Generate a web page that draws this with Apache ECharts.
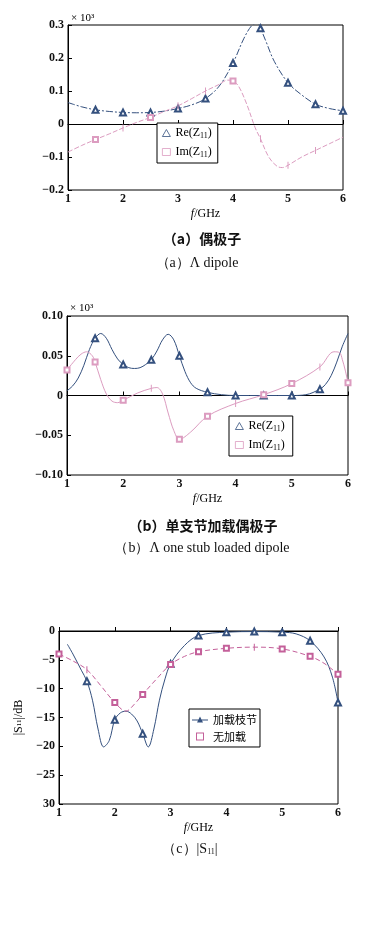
<!DOCTYPE html>
<html>
<head>
<meta charset="utf-8">
<script src="https://cdn.jsdelivr.net/npm/echarts@6/dist/echarts.min.js"></script>
<style>
  html, body { margin: 0; padding: 0; background: #fff; }
  #main { width: 377px; height: 950px; }
</style>
</head>
<body>
<div id="main"></div>
<script>
// ---- (a) dipole ----
const fReA = [1.0, 1.25, 1.5, 1.75, 2.0, 2.25, 2.5, 2.75, 3.0, 3.25, 3.5, 3.75, 4.0, 4.2, 4.35, 4.45, 4.5, 4.6, 4.75, 5.0, 5.25, 5.5, 5.75, 6.0]
const reA = [0.065, 0.052, 0.043, 0.038, 0.035, 0.034, 0.035, 0.039, 0.047, 0.058, 0.077, 0.115, 0.185, 0.26, 0.30, 0.305, 0.29, 0.25, 0.19, 0.125, 0.088, 0.06, 0.047, 0.04]
const fImA = [1.0, 1.25, 1.5, 1.75, 2.0, 2.25, 2.5, 2.75, 3.0, 3.25, 3.5, 3.75, 3.9, 4.0, 4.1, 4.25, 4.4, 4.5, 4.65, 4.8, 4.9, 5.0, 5.25, 5.5, 5.75, 6.0]
const imA = [-0.085, -0.065, -0.047, -0.03, -0.012, 0.005, 0.02, 0.038, 0.055, 0.077, 0.1, 0.12, 0.133, 0.13, 0.115, 0.06, -0.01, -0.045, -0.1, -0.128, -0.132, -0.125, -0.1, -0.08, -0.06, -0.04]
const triA = [1.5, 2, 2.5, 3, 3.5, 4, 4.5, 5, 5.5, 6]
const sqA = [1.5, 2.5, 4]
const tickA = [2, 3, 3.5, 4.5, 5, 5.5]
const yLabA = ['−0.2', '−0.1', '0', '0.1', '0.2', '0.3']

// ---- (b) one stub loaded dipole ----
const fReB = [1.0, 1.1, 1.2, 1.3, 1.4, 1.5, 1.6, 1.7, 1.8, 1.9, 2.0, 2.1, 2.2, 2.3, 2.4, 2.5, 2.6, 2.7, 2.8, 2.9, 3.0, 3.1, 3.2, 3.3, 3.5, 3.75, 4.0, 4.5, 5.0, 5.25, 5.5, 5.6, 5.7, 5.8, 5.9, 6.0]
const reB = [0.006, 0.012, 0.022, 0.038, 0.058, 0.072, 0.078, 0.072, 0.058, 0.046, 0.039, 0.035, 0.034, 0.035, 0.039, 0.045, 0.056, 0.07, 0.077, 0.07, 0.05, 0.03, 0.016, 0.009, 0.004, 0.001, 0, 0, 0, 0.001, 0.008, 0.014, 0.025, 0.042, 0.062, 0.078]
const fImB = [1.0, 1.15, 1.25, 1.35, 1.45, 1.5, 1.6, 1.7, 1.8, 1.9, 2.0, 2.25, 2.5, 2.6, 2.7, 2.8, 2.9, 3.0, 3.2, 3.5, 4.0, 4.5, 5.0, 5.5, 5.75, 5.85, 5.9, 5.95, 6.0]
const imB = [0.032, 0.045, 0.052, 0.055, 0.05, 0.042, 0.02, 0.002, -0.007, -0.009, -0.006, 0.003, 0.009, 0.01, 0.002, -0.022, -0.044, -0.055, -0.046, -0.026, -0.01, 0.001, 0.015, 0.036, 0.055, 0.054, 0.045, 0.032, 0.016]
const triB = [1.5, 2, 2.5, 3, 3.5, 4, 4.5, 5, 5.5]
const sqB = [1, 1.5, 2, 3, 3.5, 4.5, 5, 6]
const tickB = [2.5, 4, 5.5]
const yLabB = ['−0.10', '−0.05', '0', '0.05', '0.10']

// ---- (c) |S11| ----
const fLoadC = [1.15, 1.25, 1.4, 1.5, 1.6, 1.7, 1.8, 1.9, 2.0, 2.1, 2.2, 2.3, 2.4, 2.5, 2.6, 2.7, 2.8, 2.9, 3.0, 3.25, 3.5, 4.0, 4.5, 5.0, 5.25, 5.5, 5.75, 5.9, 6.0]
const loadC = [-2.3, -4, -6.8, -8.7, -12, -17, -20.1, -19, -15.4, -14.2, -13.9, -14.4, -15.6, -17.8, -20.1, -17, -12, -8.3, -5.7, -2.5, -0.8, -0.2, -0.1, -0.2, -0.5, -1.7, -4.5, -8, -12.4]
const fUnC = [1.0, 1.25, 1.5, 1.75, 2.0, 2.2, 2.35, 2.5, 2.75, 3.0, 3.25, 3.5, 4.0, 4.5, 5.0, 5.5, 5.75, 6.0]
const unC = [-4, -5.2, -6.7, -9.5, -12.4, -13.9, -12.7, -11, -8.3, -5.8, -4.4, -3.6, -3.0, -2.8, -3.1, -4.4, -5.6, -7.5]
const triC = [1.5, 2, 2.5, 3, 3.5, 4, 4.5, 5, 5.5, 6]
const sqC = [1, 2, 2.5, 3, 3.5, 4, 5, 5.5, 6]
const tickC = [1.5, 4.5]
const yLabC = ['30', '−25', '−20', '−15', '−10', '−5', '0']

const xLab = ['1', '2', '3', '4', '5', '6']

const BLUE = '#34507e'
const PINK = '#dc9cc0'
const MAG = '#c4609a'
const SERIF = 'Liberation Serif'
const CJK = 'Noto Sans CJK SC'
const TICK = 'path://M0 0H1V9H0Z'
// legend icons: line with a triangle, and a hollow square
const LINE_TRI = 'path://M0 4.5H16V5.5H0Z M8 1.5L11 7.5H5Z'
const HOLLOW_SQ = 'path://M0 0H8V8H0Z M1 1V7H7V1Z'

const zip = (f, v) => f.map((x, i) => [x, v[i]])
const has = (arr, x) => arr.some(a => Math.abs(a - x) < 1e-6)

function xAxisOf(grid) {
  return {
    type: 'value', gridIndex: grid, min: 1, max: 6, interval: 1,
    name: '{i|f}/GHz', nameLocation: 'middle', nameGap: 18,
    nameTextStyle: { fontFamily: SERIF, fontSize: 12, color: '#000', rich: { i: { fontStyle: 'italic', fontFamily: SERIF, fontSize: 12, color: '#000' } } },
    axisLine: { lineStyle: { color: '#000', width: 1 } },
    axisTick: { inside: true, length: 4, lineStyle: { color: '#000' } },
    axisLabel: { margin: 3, fontFamily: SERIF, fontSize: 12, fontWeight: 'bold', color: '#111', formatter: v => xLab[Math.round(v - 1)] },
    splitLine: { show: false }
  }
}

function yAxisOf(grid, min, max, interval, labels) {
  return {
    type: 'value', gridIndex: grid, min: min, max: max, interval: interval,
    axisLine: { show: true, lineStyle: { color: '#000', width: 1 } },
    axisTick: { show: true, inside: true, length: 4, lineStyle: { color: '#000' } },
    axisLabel: { margin: 4, fontFamily: SERIF, fontSize: 12, fontWeight: 'bold', color: '#111', formatter: v => labels[Math.round((v - min) / interval)] },
    splitLine: { show: false }
  }
}

function lineSeries(name, idx, data, color, dash, marks) {
  return {
    name: name, type: 'line', xAxisIndex: idx, yAxisIndex: idx,
    data: data, smooth: 0.35, showAllSymbol: true,
    symbol: v => has(marks.tri || [], v[0]) ? 'emptyTriangle' : has(marks.sq || [], v[0]) ? 'emptyRect' : has(marks.tick || [], v[0]) ? TICK : 'none',
    symbolSize: v => has(marks.tick || [], v[0]) ? [1, 7] : has(marks.tri || [], v[0]) ? 6 : 5,
    symbolKeepAspect: false,
    itemStyle: { color: color, borderWidth: 0.8 },
    lineStyle: { color: color, width: 1, type: dash },
    emphasis: { disabled: true }
  }
}

const legendRich = { s: { fontSize: 8, fontFamily: SERIF, color: '#000', padding: [6, 0, 0, 0] } }
const zFmt = n => n.replace('11)', '{s|11})')

const chart = echarts.init(document.getElementById('main'))
chart.setOption({
  animation: false,
  backgroundColor: '#fff',
  grid: [
    { left: 68, right: 34, top: 25, height: 165, show: true, borderColor: '#000', borderWidth: 1 },
    { left: 67, right: 29, top: 316, height: 159, show: true, borderColor: '#000', borderWidth: 1 },
    { left: 59, right: 39, top: 631, height: 173, show: true, borderColor: '#000', borderWidth: 1 }
  ],
  xAxis: [xAxisOf(0), xAxisOf(1), xAxisOf(2)],
  yAxis: [
    yAxisOf(0, -0.2, 0.3, 0.1, yLabA),
    yAxisOf(1, -0.1, 0.1, 0.05, yLabB),
    Object.assign(yAxisOf(2, -30, 0, 5, yLabC), {
      name: '|S{s|11}|/dB', nameLocation: 'middle', nameRotate: 90, nameGap: 34,
      nameTextStyle: { fontFamily: SERIF, fontSize: 12, color: '#000', rich: { s: { fontSize: 7, fontFamily: SERIF, color: '#000' } } }
    })
  ],
  legend: [
    {
      left: 157, top: 123, orient: 'vertical', itemGap: 6, itemWidth: 8, itemHeight: 7,
      padding: [4, 6, 4, 5], borderColor: '#000', borderWidth: 1, backgroundColor: '#fff',
      selectedMode: false, formatter: zFmt,
      textStyle: { fontFamily: SERIF, fontSize: 12, color: '#000', rich: legendRich },
      data: [
        { name: 'Re(Z11)', icon: 'triangle', itemStyle: { color: '#fff', borderColor: BLUE, borderWidth: 0.8 } },
        { name: 'Im(Z11)', icon: 'rect', itemStyle: { color: '#fff', borderColor: PINK, borderWidth: 0.8 } }
      ]
    },
    {
      left: 229, top: 416, orient: 'vertical', itemGap: 6, itemWidth: 8, itemHeight: 7,
      padding: [4, 8, 4, 6], borderColor: '#000', borderWidth: 1, backgroundColor: '#fff',
      selectedMode: false, formatter: zFmt,
      textStyle: { fontFamily: SERIF, fontSize: 12, color: '#000', rich: legendRich },
      data: [
        { name: 'Re(Z11)', icon: 'triangle', itemStyle: { color: '#fff', borderColor: BLUE, borderWidth: 0.8 } },
        { name: 'Im(Z11)', icon: 'rect', itemStyle: { color: '#fff', borderColor: PINK, borderWidth: 0.8 } }
      ]
    },
    {
      left: 189, top: 709, orient: 'vertical', itemGap: 6, itemWidth: 16, itemHeight: 8,
      padding: [5, 3, 5, 3], borderColor: '#000', borderWidth: 1, backgroundColor: '#fff',
      selectedMode: false, symbolKeepAspect: true,
      textStyle: { fontFamily: CJK, fontSize: 11, color: '#000' },
      data: [
        { name: '加载枝节', icon: LINE_TRI, itemStyle: { color: BLUE, borderWidth: 0 } },
        { name: '无加载', icon: HOLLOW_SQ, itemStyle: { color: MAG, borderWidth: 0 } }
      ]
    }
  ],
  graphic: [
    { type: 'text', left: 71, top: 13, style: { text: '× 10³', font: '11px "Liberation Serif"', fill: '#000' } },
    { type: 'text', left: 70, top: 303, style: { text: '× 10³', font: '11px "Liberation Serif"', fill: '#000' } },
    { type: 'text', x: 202, y: 232, style: { text: '（a）偶极子', textAlign: 'center', font: 'bold 14px "Noto Sans CJK SC"', fill: '#111' } },
    { type: 'text', x: 197, y: 256, style: { text: '（a）Λ dipole', textAlign: 'center', font: '14px "Liberation Serif"', fill: '#111' } },
    { type: 'text', x: 203, y: 519, style: { text: '（b）单支节加载偶极子', textAlign: 'center', font: 'bold 14px "Noto Sans CJK SC"', fill: '#111' } },
    { type: 'text', x: 202, y: 541, style: { text: '（b）Λ one stub loaded dipole', textAlign: 'center', font: '14px "Liberation Serif"', fill: '#111' } },
    { type: 'text', x: 190, y: 842, style: { text: '（c）|S{s|11}|', textAlign: 'center', font: '14px "Liberation Serif"', fill: '#111', rich: { s: { fontSize: 8, fontFamily: SERIF, fill: '#111', padding: [6, 0, 0, 0] } } } }
  ],
  series: [
    lineSeries('Re(Z11)', 0, zip(fReA, reA), BLUE, [7, 2, 2, 2], { tri: triA }),
    lineSeries('Im(Z11)', 0, zip(fImA, imA), PINK, [5, 2], { sq: sqA, tick: tickA }),
    lineSeries('Re(Z11)', 1, zip(fReB, reB), BLUE, 'solid', { tri: triB }),
    lineSeries('Im(Z11)', 1, zip(fImB, imB), PINK, 'solid', { sq: sqB, tick: tickB }),
    lineSeries('加载枝节', 2, zip(fLoadC, loadC), BLUE, 'solid', { tri: triC }),
    lineSeries('无加载', 2, zip(fUnC, unC), MAG, [5, 3], { sq: sqC, tick: tickC })
  ]
})
</script>
</body>
</html>
